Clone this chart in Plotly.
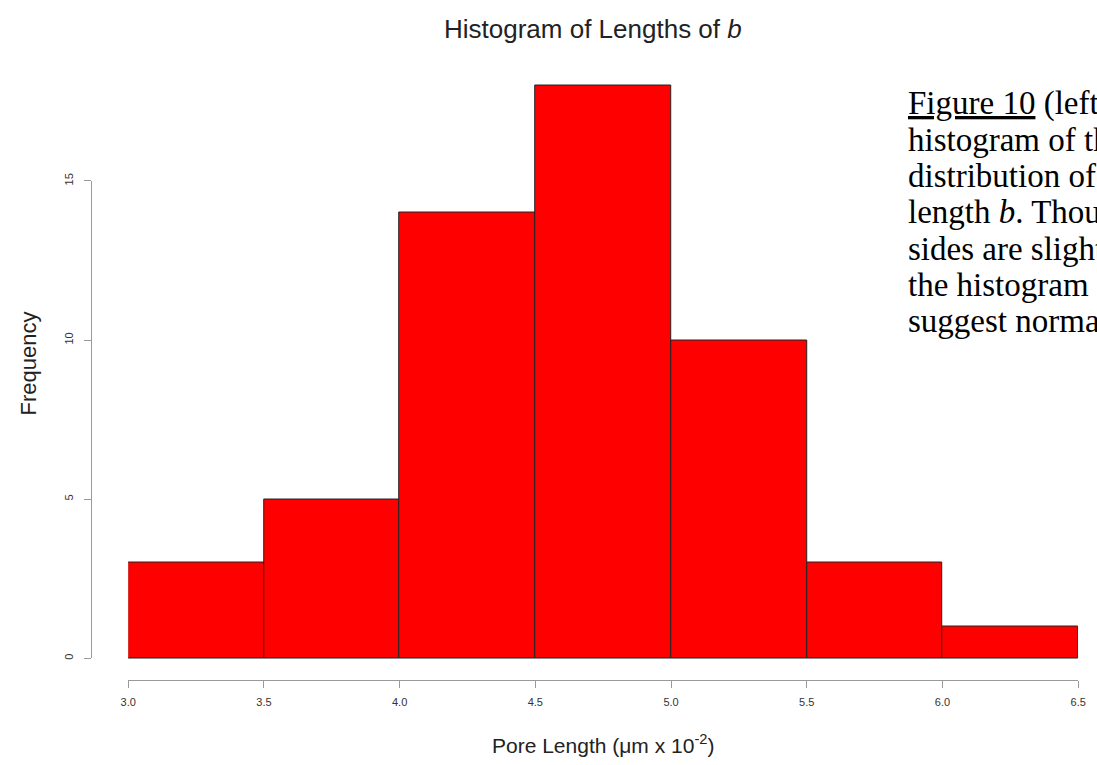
import plotly.graph_objects as go

# Data
bin_edges = [3.0, 3.5, 4.0, 4.5, 5.0, 5.5, 6.0, 6.5]
counts = [3, 5, 14, 18, 10, 3, 1]
x_ticks = [3.0, 3.5, 4.0, 4.5, 5.0, 5.5, 6.0, 6.5]
x_tick_labels = ["3.0", "3.5", "4.0", "4.5", "5.0", "5.5", "6.0", "6.5"]
y_ticks = [0, 5, 10, 15]
y_tick_labels = ["0", "5", "10", "15"]
side_text = [
    "<u>Figure 10</u> (left) is a",
    "histogram of the",
    "distribution of pore",
    "length <i>b</i>. Though both",
    "sides are slightly",
    "the histogram seems to",
    "suggest normality.",
]

W, H = 1097, 765


def px(v):
    return v / W


def py(v):
    return 1 - v / H


mids = [(a + b) / 2 for a, b in zip(bin_edges[:-1], bin_edges[1:])]
widths = [b - a for a, b in zip(bin_edges[:-1], bin_edges[1:])]

fig = go.Figure()
fig.add_trace(go.Bar(
    x=mids, y=counts, width=widths,
    marker=dict(color="#ff0000", line=dict(color="#222222", width=1)),
    xaxis="x", yaxis="y", showlegend=False, hoverinfo="x+y",
))
fig.add_trace(go.Scatter(x=[None], y=[None], xaxis="x", yaxis="y2",
                         showlegend=False, hoverinfo="skip"))

# y scale: 0 at 658px, 32.2 px per unit
y0_px, ppu = 658.0, 32.2
y_bottom_px, y_top_px = 680.0, 40.0
yr = [-(y_bottom_px - y0_px) / ppu, (y0_px - y_top_px) / ppu]

tickfont = dict(family="Liberation Sans, Arial, sans-serif", size=11, color="#333333")

fig.update_layout(
    width=W, height=H,
    margin=dict(l=0, r=0, t=0, b=0),
    paper_bgcolor="white", plot_bgcolor="rgba(0,0,0,0)",
    bargap=0,
    xaxis=dict(
        domain=[px(122), px(1086)], range=[3.0, 6.5], anchor="y",
        showline=True, linecolor="#9a9a9a", linewidth=1,
        ticks="outside", ticklen=7, tickcolor="#9a9a9a", tickwidth=1,
        tickvals=x_ticks, ticktext=x_tick_labels, tickfont=tickfont,
        ticklabelstandoff=5,
        showgrid=False, zeroline=False,
    ),
    yaxis=dict(
        domain=[py(y_bottom_px), py(y_top_px)], range=yr, visible=False,
        showgrid=False, zeroline=False,
    ),
    yaxis2=dict(
        domain=[py(658), py(175)], range=[0, 15], anchor="free",
        position=px(84), side="left",
        showline=True, linecolor="#9a9a9a", linewidth=1,
        ticks="outside", ticklen=7, tickcolor="#9a9a9a", tickwidth=1,
        tickvals=y_ticks, ticktext=y_tick_labels, tickangle=-90, tickfont=tickfont,
        ticklabelstandoff=6,
        showgrid=False, zeroline=False,
    ),
)

sans = "Liberation Sans, Arial, sans-serif"
annotations = [
    dict(text="Histogram of Lengths of <i>b</i>", x=px(594), y=py(21),
         font=dict(family=sans, size=26, color="#222222")),
    dict(text="Pore Length (μm x 10<sup>-2</sup>)", x=px(604), y=py(745),
         font=dict(family=sans, size=21, color="#222222")),
    dict(text="Frequency", x=px(21), y=py(360), textangle=-90,
         font=dict(family=sans, size=22, color="#222222")),
]
for a in annotations:
    a.update(xref="paper", yref="paper", xanchor="center", yanchor="middle",
             showarrow=False)

for i, line in enumerate(side_text):
    annotations.append(dict(
        text=line, x=px(911), y=py(97 + 36.6 * i), xref="paper", yref="paper",
        xanchor="left", yanchor="middle", showarrow=False, align="left",
        font=dict(family="Liberation Serif, Times New Roman, serif", size=33,
                  color="#000000"),
    ))

fig.update_layout(annotations=annotations)
fig.write_html("out.html")
